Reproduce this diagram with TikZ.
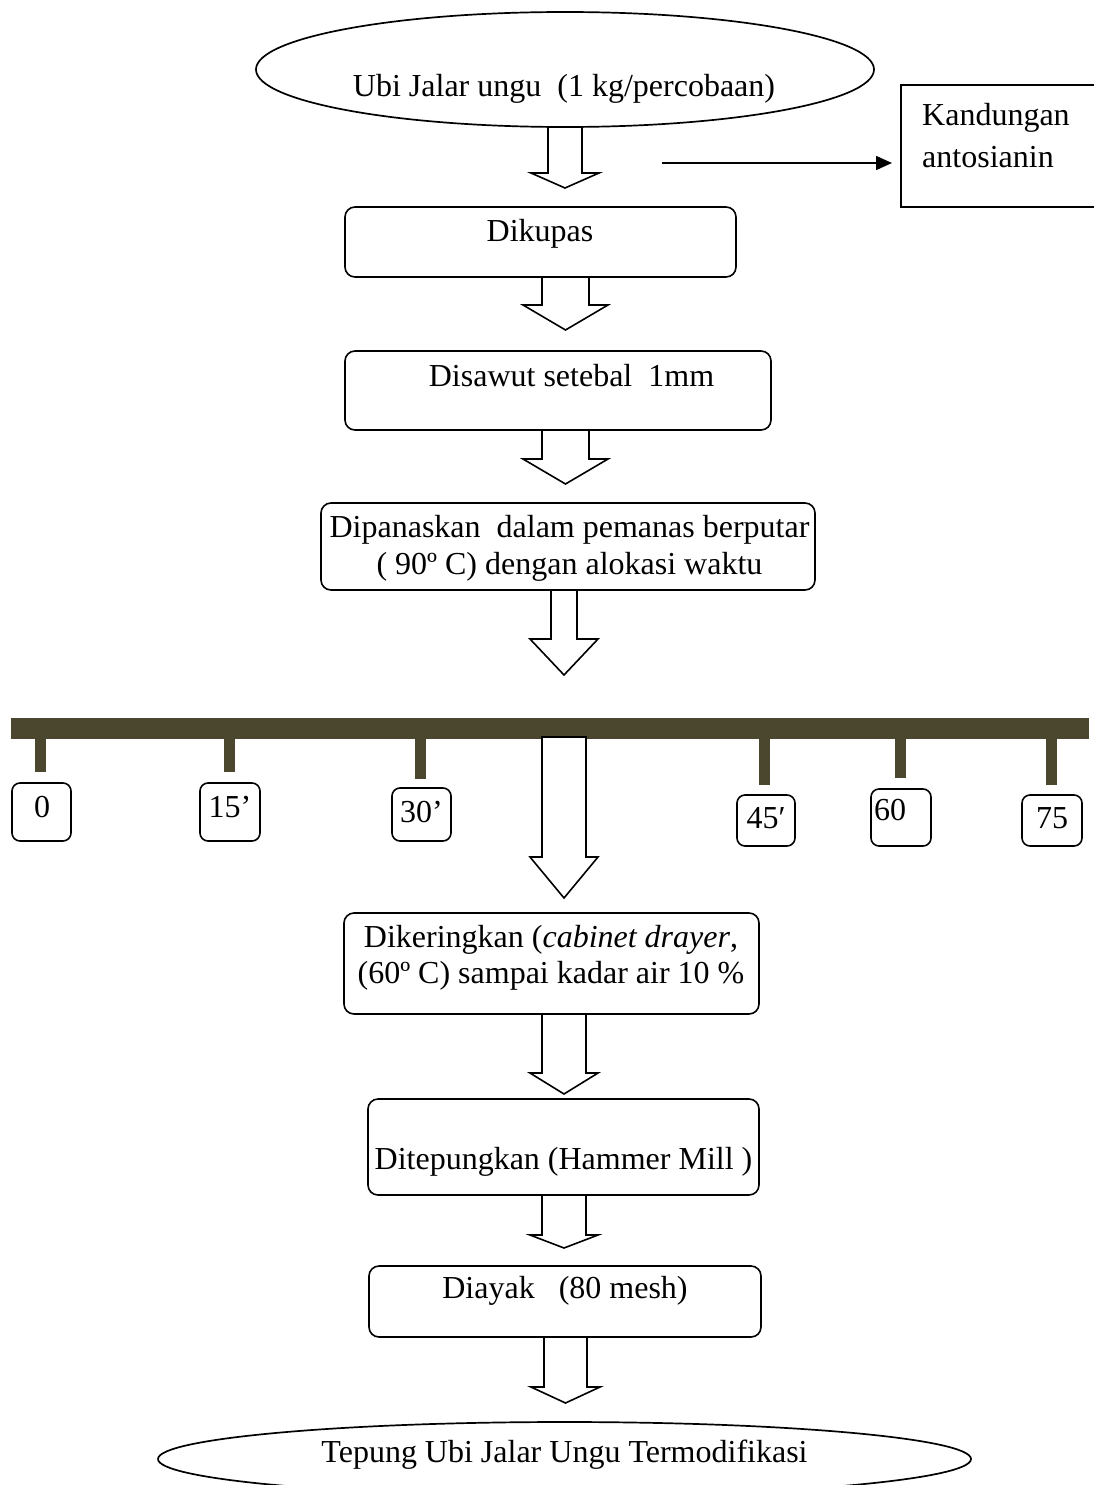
\documentclass[tikz,border=0pt]{standalone}
\usepackage{fontspec}
\setmainfont{Liberation Serif}
\usetikzlibrary{shapes.geometric,arrows.meta}

\definecolor{barolive}{RGB}{75,70,46}
\tikzset{
	txt/.style={font=\fontsize{32}{37}\selectfont, inner sep=0pt},
	stepbox/.style={draw, line width=1.6pt, rounded corners=10pt, inner sep=0pt, outer sep=0pt},
	timebox/.style={draw, line width=1.6pt, rounded corners=8pt, inner sep=0pt, outer sep=0pt},
	oval/.style={draw, ellipse, line width=1.7pt, inner sep=0pt, outer sep=0pt},
	blockarr/.style={draw, fill=white, line width=1.6pt, line join=miter}
}
% top point, shaft half width, head half width, shaft length, head length
\newcommand{\flowarrow}[5]{%
	\draw[blockarr] #1 ++(-#2,0) -- ++(0,#4) -- ++(#2-#3,0) -- ++(#3,#5)
		-- ++(#3,-#5) -- ++(#2-#3,0) -- ++(0,-#4) -- cycle;}

\begin{document}
\begin{tikzpicture}[x=1pt,y=-1pt]
				\useasboundingbox (0,0) rectangle (1094,1485);
				\clip (0,0) rectangle (1094,1485);
				% process steps
				\node[oval, minimum width=618pt, minimum height=115pt] (ubi) at (565,69.5) {};
				\node[txt, anchor=base] (ubi-t) at (564,97) {Ubi Jalar ungu~ (1 kg/percobaan)};
				\node[stepbox, minimum width=391pt, minimum height=70pt] (kupas) at (540.5,242) {};
				\node[txt, anchor=base] (kupas-t) at (540,241) {Dikupas};
				\node[stepbox, minimum width=426pt, minimum height=79pt] (sawut) at (558,390.5) {};
				\node[txt, anchor=base] (sawut-t) at (571.5,386) {Disawut setebal~ 1mm};
				\node[stepbox, minimum width=494pt, minimum height=87pt] (panas) at (568,546.5) {};
				\node[txt, anchor=base, align=center] (panas-t) at (569.5,574) {Dipanaskan~ dalam pemanas berputar\\( 90º C) dengan alokasi waktu};
				\node[stepbox, minimum width=415pt, minimum height=101pt] (kering) at (551.5,963.5) {};
				\node[txt, anchor=base, align=center, font=\fontsize{32}{36}\selectfont] (kering-t) at (551,983) {Dikeringkan (\textit{cabinet drayer},\\(60º C) sampai kadar air 10 \%};
				\node[stepbox, minimum width=391pt, minimum height=96pt] (tepung) at (563.5,1147) {};
				\node[txt, anchor=base] (tepung-t) at (563.5,1169) {Ditepungkan (Hammer Mill )};
				\node[stepbox, minimum width=392pt, minimum height=71pt] (ayak) at (565,1301.5) {};
				\node[txt, anchor=base] (ayak-t) at (565,1298) {Diayak\ \ \ (80 mesh)};
				\node[oval, minimum width=813pt, minimum height=74pt] (hasil) at (564.5,1459) {};
				\node[txt, anchor=base] (hasil-t) at (564.5,1462) {Tepung Ubi Jalar Ungu Termodifikasi};
				% side output
				\node[draw, line width=1.6pt, minimum width=200pt, minimum height=122pt, inner sep=0pt, outer sep=0pt] (kand) at (1001,146) {};
				\node[txt, anchor=base west, align=left, font=\fontsize{32}{42}\selectfont] (kand-t) at (922,167) {Kandungan\\antosianin};
				\coordinate (probe) at (662,163);
				\draw[line width=1.6pt, -{Triangle[length=16pt,width=14pt]}, shorten >=9pt] (probe) -- (probe -| kand.west);
				% time bar
				\node[fill=barolive, minimum width=1078pt, minimum height=21pt, inner sep=0pt, outer sep=0pt] (bar) at (550,728.5) {};
				\foreach \x/\b in {40.5/772, 229/772, 420.5/779, 764/785, 900.5/778, 1051/785}
					\fill[barolive] (\x-5.5,739) rectangle (\x+5.5,\b);
				\foreach \n/\x/\y/\w/\h in {0/41.5/812/59/58, 15/230/812/60/58, 30/421.5/814.5/59/53, 45/766/820.5/58/51, 60/901/817.5/60/57, 75/1052/820.5/60/51}
					\node[timebox, minimum width=\w pt, minimum height=\h pt] (t\n) at (\x,\y) {};
				\node[txt, anchor=base] (t0-t) at (42,817) {0};
				\node[txt, anchor=base] (t15-t) at (230,817) {15’};
				\node[txt, anchor=base] (t30-t) at (421.5,822) {30’};
				\node[txt, anchor=base] (t45-t) at (766,828) {45′};
				\node[txt, anchor=base west] (t60-t) at (874,820) {60};
				\node[txt, anchor=base] (t75-t) at (1052,828) {75};
				% block arrows
				\flowarrow{(565,0 |- ubi.south)}{17}{34}{46}{15}
				\flowarrow{(565.5,0 |- kupas.south)}{23.5}{42.5}{28}{25}
				\flowarrow{(565.5,0 |- sawut.south)}{23.5}{42.5}{29}{25}
				\flowarrow{(564,0 |- panas.south)}{13}{34}{49}{36}
				\coordinate (drop) at (564,737);
				\flowarrow{(drop)}{22}{34}{120}{41}
				\flowarrow{(564,0 |- kering.south)}{22}{34}{59}{21}
				\flowarrow{(564,0 |- tepung.south)}{22}{34}{40}{13}
				\flowarrow{(565.5,0 |- ayak.south)}{21.5}{34.5}{50}{16}
\end{tikzpicture}
\end{document}
